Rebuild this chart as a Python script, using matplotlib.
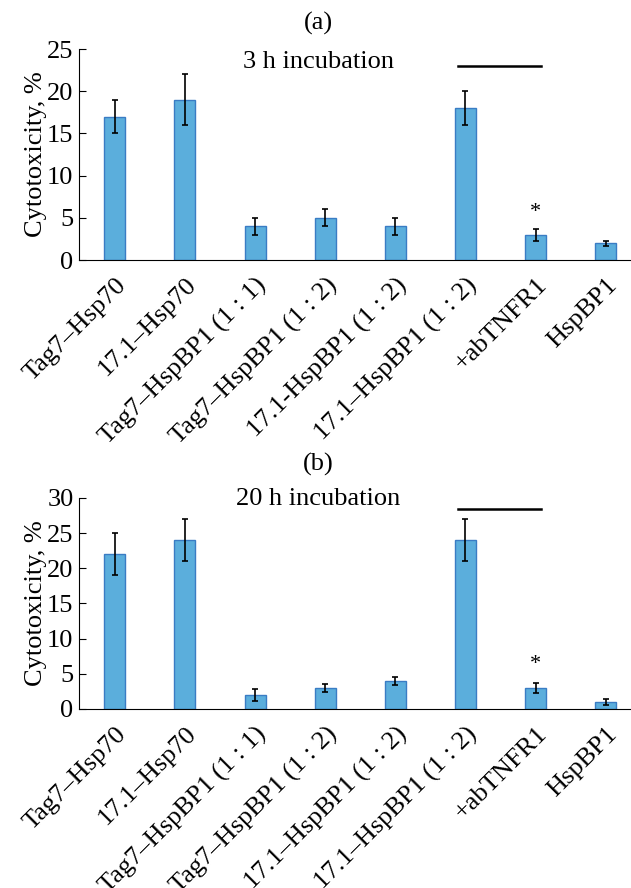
import numpy as np
import matplotlib
matplotlib.use("Agg")
import matplotlib.pyplot as plt

plt.rcParams['font.family'] = ['Liberation Serif', 'DejaVu Serif']

# --- data ---
labels_a = ['Tag7\u2013Hsp70', '17.1\u2013Hsp70', 'Tag7\u2013HspBP1 (1 : 1)',
            'Tag7\u2013HspBP1 (1 : 2)', '17.1-HspBP1 (1 : 2)',
            '17.1\u2013HspBP1 (1 : 2)', '+abTNFR1', 'HspBP1']
labels_b = ['Tag7\u2013Hsp70', '17.1\u2013Hsp70', 'Tag7\u2013HspBP1 (1 : 1)',
            'Tag7\u2013HspBP1 (1 : 2)', '17.1\u2013HspBP1 (1 : 2)',
            '17.1\u2013HspBP1 (1 : 2)', '+abTNFR1', 'HspBP1']

values_a = [17, 19, 4, 5, 4, 18, 3, 2]
errors_a = [2, 3, 1, 1, 1, 2, 0.7, 0.3]
values_b = [22, 24, 2, 3, 4, 24, 3, 1]
errors_b = [3, 3, 0.8, 0.6, 0.6, 3, 0.7, 0.4]

yticks_a = [0, 5, 10, 15, 20, 25]
yticks_b = [0, 5, 10, 15, 20, 25, 30]

BAR_COLOR = '#5BAEDC'
EDGE_COLOR = '#3A7CC4'

fig = plt.figure(figsize=(6.31, 8.88), dpi=100)


def draw_panel(ax, labels, values, errors, yticks, title, panel, line_y, star_y, text_y, panel_y):
    x = np.arange(len(values))
    ax.bar(x, values, width=0.3, color=BAR_COLOR, edgecolor=EDGE_COLOR, linewidth=1.0,
           yerr=errors, error_kw=dict(ecolor='black', elinewidth=1.2, capsize=2.5, capthick=1.2))
    ax.set_xlim(-0.51, 7.36)
    ax.set_ylim(yticks[0], yticks[-1])
    ax.set_yticks(yticks)
    ax.tick_params(axis='y', direction='in', length=5, labelsize=19, pad=4)
    ax.set_xticks(x)
    ax.set_xticklabels(labels, rotation=45, ha='right', rotation_mode='anchor', fontsize=19)
    ax.tick_params(axis='x', length=0, pad=10)
    for s in ['top', 'right']:
        ax.spines[s].set_visible(False)
    ax.set_ylabel('Cytotoxicity, %', fontsize=19, labelpad=0)
    # significance line and star
    ax.plot([4.89, 6.07], [line_y, line_y], color='black', lw=1.8, clip_on=False)
    ax.text(6, star_y, '*', ha='center', va='center', fontsize=16)
    ax.text(2.9, text_y, title, ha='center', va='center', fontsize=19)
    ax.text(2.9, panel_y, panel, ha='center', va='center', fontsize=19)


ax1 = fig.add_axes([0.1252, 0.7072, 0.8748, 0.2376])
draw_panel(ax1, labels_a, values_a, errors_a, yticks_a, '3 h incubation', '(a)',
           23.0, 5.6, 23.5, 28.0)

ax2 = fig.add_axes([0.1252, 0.2016, 0.8748, 0.2376])
draw_panel(ax2, labels_b, values_b, errors_b, yticks_b, '20 h incubation', '(b)',
           28.4, 6.3, 29.9, 34.7)

fig.savefig('out.png', dpi=100)
